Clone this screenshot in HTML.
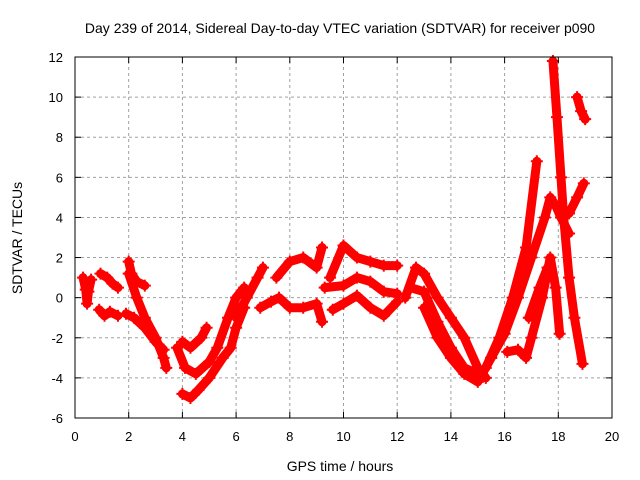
<!DOCTYPE html>
<html><head><meta charset="utf-8"><style>
body{margin:0;background:#fff;}
svg{display:block;font-family:"Liberation Sans",sans-serif;}
</style></head><body>
<svg id="chart" width="640" height="480">
<text x="340" y="33" text-anchor="middle" font-size="14">Day 239 of 2014, Sidereal Day-to-day VTEC variation (SDTVAR) for receiver p090</text>
<text x="340" y="471" text-anchor="middle" font-size="14">GPS time / hours</text>
<text transform="translate(22,238) rotate(-90)" text-anchor="middle" font-size="14">SDTVAR / TECUs</text>
<g id="grid"></g><g id="marks"></g><g id="axes"></g>
</svg>
<script>
const xTicks=[0,2,4,6,8,10,12,14,16,18,20];
const yTicks=[-6,-4,-2,0,2,4,6,8,10,12];
const s1=[[0.3,1],[0.4,0.4],[0.45,-0.3],[0.5,0.3],[0.6,0.9]];
const s2=[[0.95,1.2],[1.2,1.0],[1.4,0.7],[1.6,0.5]];
const s3=[[0.9,-0.6],[1.1,-0.9],[1.3,-0.7],[1.6,-0.9]];
const s4=[[2.0,1.8],[2.1,1.2],[2.3,0.8],[2.6,0.6]];
const s5=[[2.0,1.2],[2.3,0.0],[2.6,-1.0],[3.0,-2.0],[3.3,-3.0],[3.4,-3.5]];
const s6=[[1.9,-0.8],[2.2,-1.0],[2.6,-1.5],[3.0,-2.2],[3.3,-2.6]];
const s7=[[4.0,-4.8],[4.3,-5.0],[4.6,-4.6],[5.0,-4.0],[5.5,-3.0],[5.8,-2.5],[6.0,-1.5],[6.3,-0.5]];
const s8=[[3.8,-2.5],[4.1,-3.5],[4.5,-3.8],[5.0,-3.2],[5.3,-2.5],[5.7,-1.0],[6.0,0.0],[6.3,0.5]];
const s9=[[4.0,-2.2],[4.3,-2.5],[4.7,-2.0],[4.9,-1.5]];
const s10=[[6.0,-1.0],[6.4,0.0],[6.8,1.0],[7.0,1.5]];
const s11=[[6.9,-0.5],[7.3,-0.2],[7.6,0.0],[8.0,-0.5],[8.5,-0.5],[9.0,-0.3],[9.2,-1.2]];
const s12=[[7.5,1.0],[8.0,1.8],[8.5,2.0],[9.0,1.5],[9.2,2.5]];
const s13=[[9.5,1.0],[10.0,2.6],[10.5,2.0],[11.0,1.8],[11.5,1.6],[12.0,1.6]];
const s14=[[9.3,0.5],[10.0,0.6],[10.5,1.0],[11.0,0.8],[11.5,0.3],[12.0,0.2]];
const s15=[[9.6,-0.6],[10.0,-0.3],[10.5,0.1],[11.0,-0.5],[11.5,-0.9],[12.0,-0.2]];
const s16=[[12.3,0.0],[12.7,1.5],[13.0,1.2],[13.5,0.0],[14.0,-1.0],[14.5,-2.0],[15.0,-3.5],[15.3,-4.0]];
const s17=[[12.5,0.5],[13.0,0.3],[13.5,-1.2],[14.0,-2.5],[14.5,-3.5],[15.0,-3.8]];
const s18=[[13.0,-0.5],[13.5,-2.0],[14.0,-3.0],[14.5,-3.8],[15.0,-4.2],[15.5,-3.0]];
const s19=[[15.3,-3.5],[15.8,-2.0],[16.3,0.0],[16.8,2.5],[17.2,6.8]];
const s20=[[15.5,-3.0],[16.0,-1.8],[16.5,0.0],[17.0,2.0],[17.5,4.0],[17.7,5.0],[17.9,4.6],[18.1,4.0],[18.4,3.2]];
const s21=[[17.8,11.8],[17.95,9.0],[18.1,6.0],[18.2,4.0],[18.4,1.0],[18.6,-1.0],[18.9,-3.3]];
const s22=[[18.1,4.0],[18.4,4.2],[18.7,5.0],[18.95,5.7]];
const s23=[[16.1,-2.7],[16.5,-2.6],[16.8,-3.0],[17.0,-2.0],[17.4,0.0],[17.7,2.0],[17.9,0.5],[18.05,-1.8]];
const s24=[[16.9,-1.0],[17.3,0.5],[17.6,1.5]];
const s25=[[18.7,10.0],[18.85,9.3],[19.0,8.9]];
const series=[s1,s2,s3,s4,s5,s6,s7,s8,s9,s10,s11,s12,s13,s14,s15,s16,s17,s18,s19,s20,s21,s22,s23,s24,s25];
const X0=75,X1=612,Y0=418,Y1=57;
const xs=h=>X0+(h-0)/(20-0)*(X1-X0);
const ys=v=>Y0-(v+6)/(12+6)*(Y0-Y1);
const NS="http://www.w3.org/2000/svg";
const grid=document.getElementById('grid'),marks=document.getElementById('marks'),axes=document.getElementById('axes');
function mk(tag,attrs,parent){const e=document.createElementNS(NS,tag);for(const k in attrs)e.setAttribute(k,attrs[k]);parent.appendChild(e);return e;}
xTicks.forEach(t=>{const x=xs(t);
 if(t>0&&t<20){const l=mk('line',{x1:x,x2:x,y1:Y0,y2:Y1,stroke:'#a0a0a0','stroke-dasharray':'3,3'},grid);
 
 }
 mk('line',{x1:x,x2:x,y1:Y0,y2:Y0-6,stroke:'#000'},axes);mk('line',{x1:x,x2:x,y1:Y1,y2:Y1+6,stroke:'#000'},axes);
 const tx=mk('text',{x:x,y:Y0+23,'text-anchor':'middle','font-size':'13'},axes);tx.textContent=t;
 
 });
yTicks.forEach(t=>{const y=ys(t);
 if(t>-6&&t<12){const l=mk('line',{x1:X0,x2:X1,y1:y,y2:y,stroke:'#a0a0a0','stroke-dasharray':'3,3'},grid);
 
 }
 mk('line',{x1:X0,x2:X0+6,y1:y,y2:y,stroke:'#000'},axes);mk('line',{x1:X1,x2:X1-6,y1:y,y2:y,stroke:'#000'},axes);
 const tx=mk('text',{x:X0-12,y:y+5,'text-anchor':'end','font-size':'13'},axes);tx.textContent=t;
 
 });
const fr=mk('rect',{x:X0,y:Y1,width:X1-X0,height:Y0-Y1,fill:'none',stroke:'#000'},axes);


series.forEach((s,i)=>{
 const g=mk('g',{},marks);
 
 
 mk('polyline',{points:s.map(p=>xs(p[0])+','+ys(p[1])).join(' '),fill:'none',stroke:'#ff0000','stroke-width':9,'stroke-linejoin':'round','stroke-linecap':'round'},g);
 s.forEach(p=>{const x=xs(p[0]),y=ys(p[1]);
  const m=mk('path',{d:`M${x-6},${y}H${x+6}M${x},${y-6}V${y+6}`,stroke:'#ff0000','stroke-width':2},g);
  
  });
});
</script>
</body></html>
